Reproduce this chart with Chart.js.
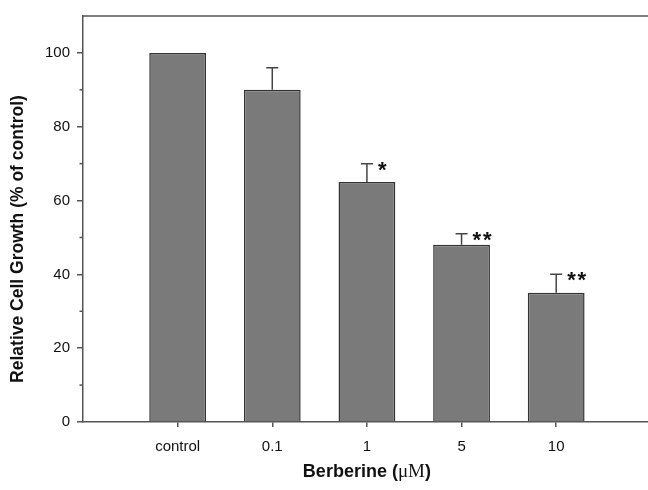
<!DOCTYPE html>
<html>
<head>
<meta charset="utf-8">
<script src="https://cdn.jsdelivr.net/npm/chart.js@4"></script>
<style>
  html, body { margin: 0; padding: 0; background: #fff; }
</style>
</head>
<body>
<canvas id="growthChart" width="648" height="490"></canvas>
<script>
// data
const categories = ['control', '0.1', '1', '5', '10'];
const growth = [100, 90, 65, 48, 35];
const errors = [0, 6, 5, 3, 5];
const stars = ['', '', '*', '**', '**'];
const yTicks = [0, 20, 40, 60, 80, 100];
const yMinorTicks = [10, 30, 50, 70, 90];

const sans = '"Liberation Sans", Arial, sans-serif';
const serif = '"Liberation Serif", "Times New Roman", serif';
const axisColor = '#555';

Chart.defaults.font.family = sans;
Chart.defaults.color = '#111';

// error bars, stars, top frame line, minor ticks and axis titles
const extras = {
    id: 'extras',
    afterDatasetsDraw(chart) {
        const { ctx, chartArea, scales: { x, y } } = chart;
        ctx.save();
        ctx.strokeStyle = axisColor;
        ctx.lineWidth = 1.5;

        ctx.beginPath();
        ctx.moveTo(chartArea.left, chartArea.top);
        ctx.lineTo(chartArea.right, chartArea.top);
        ctx.stroke();

        yMinorTicks.forEach(v => {
            const py = y.getPixelForValue(v);
            ctx.beginPath();
            ctx.moveTo(chartArea.left - 3.5, py);
            ctx.lineTo(chartArea.left, py);
            ctx.stroke();
        });

        ctx.strokeStyle = '#444';
        growth.forEach((v, i) => {
            if (!errors[i]) return;
            const px = x.getPixelForValue(i);
            const top = y.getPixelForValue(v + errors[i]);
            ctx.beginPath();
            ctx.moveTo(px, y.getPixelForValue(v));
            ctx.lineTo(px, top);
            ctx.moveTo(px - 6, top);
            ctx.lineTo(px + 6, top);
            ctx.stroke();

            if (stars[i]) {
                ctx.fillStyle = '#111';
                ctx.font = 'bold 22px ' + sans;
                ctx.textAlign = 'left';
                ctx.textBaseline = 'middle';
                ctx.fillText(stars[i].split('').join('\u200a'), px + 11, top + 7);
            }
        });
        ctx.restore();
    },
    afterDraw(chart) {
        const { ctx, chartArea, scales: { x } } = chart;
        ctx.save();
        ctx.fillStyle = '#111';
        ctx.textBaseline = 'middle';

        // y title
        ctx.save();
        ctx.translate(18, (chartArea.top + chartArea.bottom) / 2 + 20);
        ctx.rotate(-Math.PI / 2);
        ctx.textAlign = 'center';
        ctx.font = 'bold 17.5px ' + sans;
        ctx.fillText('Relative Cell Growth (% of control)', 0, 0);
        ctx.restore();

        // x title, centred under the middle category
        const parts = [
            ['Berberine (', 'bold 18px ' + sans],
            ['\u03bcM', '19px ' + serif],
            [')', 'bold 18px ' + sans]
        ];
        let total = 0;
        parts.forEach(p => { ctx.font = p[1]; total += ctx.measureText(p[0]).width; });
        let cx = x.getPixelForValue(2) - total / 2;
        ctx.textAlign = 'left';
        parts.forEach(p => {
            ctx.font = p[1];
            ctx.fillText(p[0], cx, 472);
            cx += ctx.measureText(p[0]).width;
        });
        ctx.restore();
    }
};

const ctx = document.getElementById('growthChart').getContext('2d');

new Chart(ctx, {
    type: 'bar',
    data: {
        datasets: [{
            data: categories.map((c, i) => ({ x: i, y: growth[i] })),
            backgroundColor: '#7a7a7a',
            borderColor: '#333',
            borderWidth: 1.5,
            barPercentage: 0.6,
            categoryPercentage: 1
        }]
    },
    options: {
        responsive: false,
        animation: false,
        devicePixelRatio: 1,
        layout: { padding: { top: 13, right: 0, left: 0, bottom: 0 } },
        plugins: {
            legend: { display: false },
            tooltip: { enabled: false }
        },
        scales: {
            x: {
                type: 'linear',
                min: -1,
                max: 4.97,
                offset: false,
                afterBuildTicks: s => { s.ticks = categories.map((c, i) => ({ value: i })); },
                afterFit: s => { s.height = 68; },
                grid: { drawOnChartArea: false, tickLength: 5, color: axisColor, offset: false, lineWidth: 1.5 },
                border: { color: axisColor, width: 1.5 },
                ticks: {
                    callback: v => categories[v],
                    font: { size: 15 },
                    padding: 11,
                    maxRotation: 0,
                    autoSkip: false
                }
            },
            y: {
                min: 0,
                max: 110,
                afterBuildTicks: s => { s.ticks = yTicks.map(v => ({ value: v })); },
                afterFit: s => { s.width = 83; },
                grid: { drawOnChartArea: false, tickLength: 6, color: axisColor, lineWidth: 1.5 },
                border: { color: axisColor, width: 1.5 },
                ticks: { font: { size: 15 }, padding: 7 }
            }
        }
    },
    plugins: [extras]
});
</script>
</body>
</html>
